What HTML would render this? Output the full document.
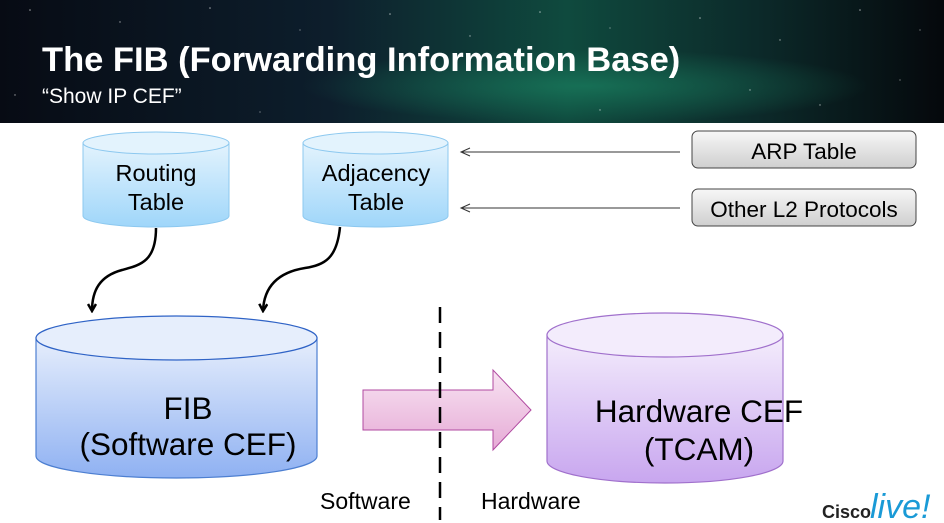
<!DOCTYPE html>
<html><head><meta charset="utf-8"><style>
html,body{margin:0;padding:0;width:944px;height:523px;overflow:hidden;background:#fff}
svg{display:block}
text{font-family:"Liberation Sans",Arial,sans-serif}
</style></head><body>
<svg width="944" height="523" viewBox="0 0 944 523" xmlns="http://www.w3.org/2000/svg">
<defs>
<linearGradient id="hdr" x1="0" y1="0" x2="1" y2="0">
<stop offset="0" stop-color="#070b14"/><stop offset="0.35" stop-color="#0d1e2c"/><stop offset="0.6" stop-color="#0f4a3e"/><stop offset="0.8" stop-color="#0c2a2a"/><stop offset="1" stop-color="#05080c"/></linearGradient>
<radialGradient id="glow" cx="0.62" cy="0.7" r="0.3"><stop offset="0" stop-color="#1a8060" stop-opacity="0.7"/><stop offset="1" stop-color="#1a8060" stop-opacity="0"/></radialGradient>
<linearGradient id="lb" x1="0" y1="0" x2="0" y2="1"><stop offset="0" stop-color="#e3f3fd"/><stop offset="1" stop-color="#9fd6fa"/></linearGradient>
<linearGradient id="fib" x1="0" y1="0" x2="0" y2="1"><stop offset="0" stop-color="#e6eefc"/><stop offset="1" stop-color="#8fb1f2"/></linearGradient>
<linearGradient id="hw" x1="0" y1="0" x2="0" y2="1"><stop offset="0" stop-color="#f4edfc"/><stop offset="1" stop-color="#c8a6ef"/></linearGradient>
<linearGradient id="pk" x1="0" y1="0" x2="0" y2="1"><stop offset="0" stop-color="#f8e3f2"/><stop offset="1" stop-color="#e6abd6"/></linearGradient>
<linearGradient id="btn" x1="0" y1="0" x2="0" y2="1"><stop offset="0" stop-color="#f7f7f7"/><stop offset="1" stop-color="#cfcfcf"/></linearGradient>
<marker id="ah" markerWidth="10" markerHeight="10" refX="8" refY="5" orient="auto" markerUnits="userSpaceOnUse"><path d="M1,1 L8,5 L1,9" fill="none" stroke="#000" stroke-width="2.5"/></marker>
</defs>
<rect x="0" y="0" width="944" height="123" fill="url(#hdr)"/>
<rect x="0" y="0" width="944" height="123" fill="url(#glow)"/>
<g fill="#fff" opacity="0.6">
<circle cx="30" cy="10" r="0.8"/><circle cx="120" cy="22" r="0.7"/><circle cx="210" cy="8" r="0.8"/><circle cx="300" cy="30" r="0.6"/><circle cx="390" cy="14" r="0.8"/><circle cx="470" cy="36" r="0.7"/><circle cx="540" cy="12" r="0.8"/><circle cx="610" cy="28" r="0.6"/><circle cx="700" cy="18" r="0.8"/><circle cx="780" cy="40" r="0.7"/><circle cx="860" cy="10" r="0.8"/><circle cx="920" cy="30" r="0.6"/><circle cx="750" cy="90" r="0.7"/><circle cx="820" cy="105" r="0.7"/><circle cx="900" cy="80" r="0.6"/><circle cx="600" cy="110" r="0.7"/><circle cx="260" cy="112" r="0.6"/><circle cx="15" cy="95" r="0.7"/>
</g>
<text x="42" y="71" font-size="34.5" font-weight="bold" fill="#fff">The FIB (Forwarding Information Base)</text>
<text x="42" y="103" font-size="21" fill="#fff">“Show IP CEF”</text>

<!-- Routing table -->
<path d="M83,143 L83,216 A73,11 0 0 0 229,216 L229,143 Z" fill="url(#lb)" stroke="#8cc8ef" stroke-width="1"/>
<ellipse cx="156" cy="143" rx="73" ry="11" fill="#e3f3fd" stroke="#8cc8ef" stroke-width="1"/>
<text x="156" y="181" font-size="23.5" text-anchor="middle">Routing</text>
<text x="156" y="210" font-size="23.5" text-anchor="middle">Table</text>
<!-- Adjacency -->
<path d="M303,143 L303,216 A72.5,11 0 0 0 448,216 L448,143 Z" fill="url(#lb)" stroke="#8cc8ef" stroke-width="1"/>
<ellipse cx="375.5" cy="143" rx="72.5" ry="11" fill="#e3f3fd" stroke="#8cc8ef" stroke-width="1"/>
<text x="376" y="181" font-size="23.5" text-anchor="middle">Adjacency</text>
<text x="376" y="210" font-size="23.5" text-anchor="middle">Table</text>

<!-- curves -->
<path d="M156,228 C156,262 140,265 122,270 C100,276 92,290 92,311" fill="none" stroke="#000" stroke-width="2.5" marker-end="url(#ah)"/>
<path d="M340,227 C337,258 325,265 305,268 C280,272 264,285 263,311" fill="none" stroke="#000" stroke-width="2.5" marker-end="url(#ah)"/>

<!-- ARP arrows (pointing left) -->
<line x1="680" y1="152" x2="461" y2="152" stroke="#333" stroke-width="1"/>
<path d="M470,148 L461,152 L470,156" fill="none" stroke="#333" stroke-width="1"/>
<line x1="680" y1="208" x2="461" y2="208" stroke="#333" stroke-width="1"/>
<path d="M470,204 L461,208 L470,212" fill="none" stroke="#333" stroke-width="1"/>
<rect x="692" y="131" width="224" height="37" rx="6" fill="url(#btn)" stroke="#444" stroke-width="1"/>
<text x="804" y="159" font-size="22.5" text-anchor="middle">ARP Table</text>
<rect x="692" y="189" width="224" height="37" rx="6" fill="url(#btn)" stroke="#444" stroke-width="1"/>
<text x="804" y="217" font-size="22.5" text-anchor="middle">Other L2 Protocols</text>

<!-- FIB -->
<path d="M36,338 L36,456 A140.5,22 0 0 0 317,456 L317,338 Z" fill="url(#fib)" stroke="#4d7fd1" stroke-width="1.2"/>
<ellipse cx="176.5" cy="338" rx="140.5" ry="22" fill="#e6eefc" stroke="#2f63c6" stroke-width="1.2"/>
<text x="188" y="419" font-size="31.5" text-anchor="middle">FIB</text>
<text x="188" y="455" font-size="31.5" text-anchor="middle">(Software CEF)</text>

<!-- Hardware -->
<path d="M547,335 L547,461 A118,22 0 0 0 783,461 L783,335 Z" fill="url(#hw)" stroke="#a070cc" stroke-width="1.2"/>
<ellipse cx="665" cy="335" rx="118" ry="22" fill="#f3ecfc" stroke="#a070cc" stroke-width="1.2"/>
<text x="699" y="422" font-size="31.5" text-anchor="middle">Hardware CEF</text>
<text x="699" y="460" font-size="31.5" text-anchor="middle">(TCAM)</text>

<!-- pink arrow -->
<path d="M363,390 L493,390 L493,370 L531,410 L493,450 L493,430 L363,430 Z" fill="url(#pk)" stroke="#b04aa0" stroke-width="1"/>
<line x1="440" y1="307" x2="440" y2="520" stroke="#000" stroke-width="2.5" stroke-dasharray="16,9"/>

<text x="320" y="509" font-size="23">Software</text>
<text x="481" y="509" font-size="23">Hardware</text>

<text x="822" y="518" font-size="18" font-weight="bold" fill="#222">Cisco</text>
<text x="870" y="518" font-size="34" font-style="italic" fill="#1a9ad6">live!</text>
</svg>
</body></html>
